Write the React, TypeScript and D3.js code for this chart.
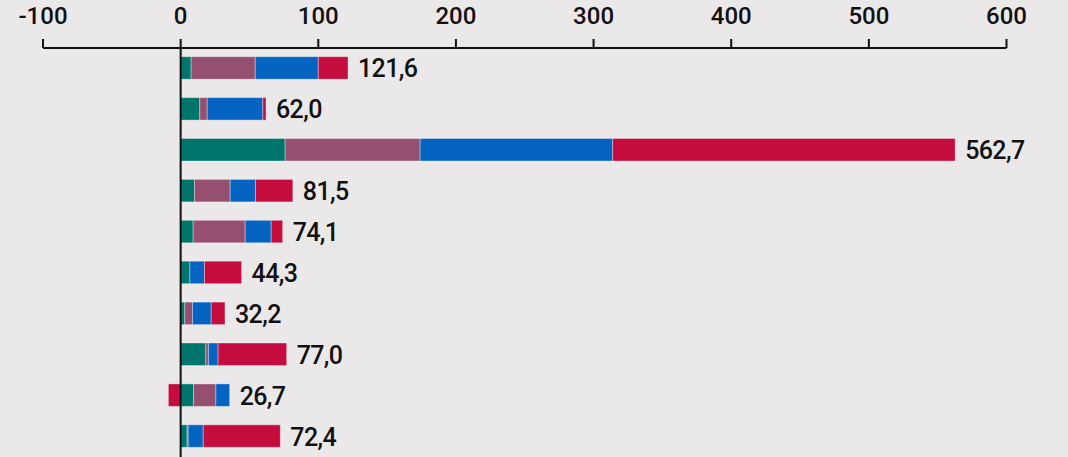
import React, { useEffect, useRef } from "react";
import * as d3 from "d3";

const WIDTH = 1068;
const HEIGHT = 457;

// categories are unnamed in the picture, rows top to bottom
const rows = ["r1", "r2", "r3", "r4", "r5", "r6", "r7", "r8", "r9", "r10"];
const greenValues = [7.6, 13.9, 75.9, 10.1, 9.1, 6.7, 3.0, 18.3, 9.4, 4.7];
const purpleValues = [46.6, 5.4, 98.1, 25.9, 37.8, 0.0, 5.6, 1.9, 16.2, 0.8];
const blueValues = [45.8, 40.4, 139.9, 18.4, 18.9, 10.6, 13.6, 7.0, 10.0, 10.9];
const redValues = [21.6, 2.3, 248.8, 27.1, 8.3, 27.0, 10.0, 49.8, -8.9, 56.0];
const totals = [121.6, 62.0, 562.7, 81.5, 74.1, 44.3, 32.2, 77.0, 26.7, 72.4];
const ticks = [-100, 0, 100, 200, 300, 400, 500, 600];

const seriesColors = ["#00756b", "#955070", "#0563c1", "#c40c3e"];

const App = () => {
  const svgRef = useRef<SVGSVGElement | null>(null);

  useEffect(() => {
    if (!svgRef.current) return;
    const svg = d3.select(svgRef.current);
    svg.selectAll("*").remove();

    const x = d3.scaleLinear().domain([-100, 600]).range([43, 1006.5]);
    const y = d3
      .scaleBand()
      .domain(rows)
      .range([47.5, 456.5])
      .paddingInner(0.45)
      .paddingOuter(0.225);

    svg.append("rect").attr("width", WIDTH).attr("height", HEIGHT).attr("fill", "#ebe8e9");

    const series = [greenValues, purpleValues, blueValues, redValues];

    // stacked bars, positives to the right, negatives to the left
    rows.forEach((r, i) => {
      let pos = 0;
      let neg = 0;
      series.forEach((vals, s) => {
        const v = vals[i];
        if (v === 0) return;
        let x0, x1;
        if (v > 0) {
          x0 = pos;
          x1 = pos + v;
          pos = x1;
        } else {
          x1 = neg;
          x0 = neg + v;
          neg = x0;
        }
        svg
          .append("rect")
          .attr("x", x(x0))
          .attr("y", y(r)!)
          .attr("width", x(x1) - x(x0))
          .attr("height", y.bandwidth())
          .attr("fill", seriesColors[s])
          .attr("stroke", "rgba(255,255,255,0.35)")
          .attr("stroke-width", 1);
      });

      svg
        .append("text")
        .attr("x", x(pos) + 10)
        .attr("y", y(r)! + y.bandwidth() / 2 + 1)
        .attr("dominant-baseline", "central")
        .attr("font-family", "Roboto, sans-serif")
        .attr("font-weight", 500)
        .attr("font-size", 25)
        .attr("letter-spacing", -0.6)
        .attr("fill", "#111")
        .text(d3.format(".1f")(totals[i]).replace(".", ","));
    });

    // zero line
    svg
      .append("line")
      .attr("x1", x(0))
      .attr("x2", x(0))
      .attr("y1", 48)
      .attr("y2", HEIGHT)
      .attr("stroke", "#111")
      .attr("stroke-width", 2);

    // top axis
    const axis = svg.append("g");
    axis
      .append("line")
      .attr("x1", x(-100))
      .attr("x2", x(600))
      .attr("y1", 48)
      .attr("y2", 48)
      .attr("stroke", "#111")
      .attr("stroke-width", 2);

    axis
      .selectAll(".tick")
      .data(ticks)
      .enter()
      .append("line")
      .attr("x1", (d) => x(d))
      .attr("x2", (d) => x(d))
      .attr("y1", 39)
      .attr("y2", 48)
      .attr("stroke", "#111")
      .attr("stroke-width", 2);

    axis
      .selectAll(".tick-label")
      .data(ticks)
      .enter()
      .append("text")
      .attr("x", (d) => x(d))
      .attr("y", 24)
      .attr("text-anchor", "middle")
      .attr("font-family", "Roboto, sans-serif")
      .attr("font-weight", 500)
      .attr("font-size", 24)
      .attr("fill", "#111")
      .text((d) => (d < 0 ? "-" + Math.abs(d) : String(d)));
  }, []);

  return (
    <svg
      ref={svgRef}
      width={WIDTH}
      height={HEIGHT}
      style={{ position: "absolute", left: 0, top: 0, display: "block" }}
    />
  );
};

export default App;
